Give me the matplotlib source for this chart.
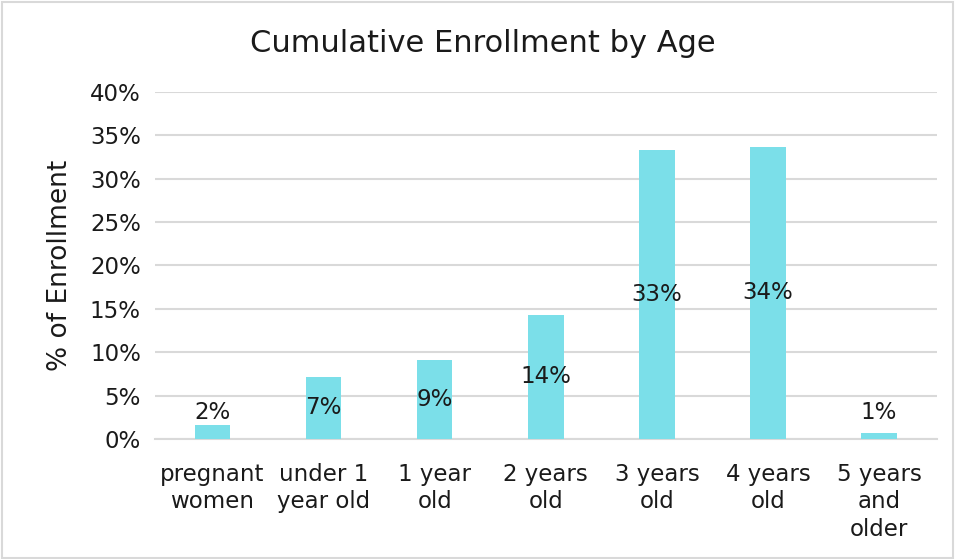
import matplotlib.pyplot as plt
from matplotlib.patches import Rectangle

categories = ['pregnant\nwomen', 'under 1\nyear old', '1 year\nold', '2 years\nold',
              '3 years\nold', '4 years\nold', '5 years\nand\nolder']
enrollment = [0.016, 0.072, 0.091, 0.143, 0.333, 0.337, 0.007]
labels = ['2%', '7%', '9%', '14%', '33%', '34%', '1%']

plt.rcParams['font.family'] = ['DejaVu Sans']

fig = plt.figure(figsize=(9.55, 5.59), dpi=100)
ax = fig.add_axes([0.162, 0.2147, 0.819, 0.6207])

x = range(len(categories))
ax.bar(x, enrollment, width=0.32, color='#7bdfe9', zorder=3)

# data labels centred in the bar, pushed up for the short ones
for i, v in enumerate(enrollment):
    ax.text(i, max(v / 2, 0.030), labels[i], ha='center', va='center',
            fontsize=16.5, color='#1a1a1a', zorder=4)

ax.set_ylim(0, 0.40)
ax.set_xlim(-0.52, 6.52)
ax.set_yticks([i * 0.05 for i in range(9)])
ax.set_yticklabels([f'{i * 5}%' for i in range(9)], fontsize=16.5, color='#1a1a1a')
ax.set_xticks(list(x))
ax.set_xticklabels(categories, fontsize=16.5, color='#1a1a1a', linespacing=1.25)
ax.tick_params(axis='y', length=0, pad=10)
ax.tick_params(axis='x', length=0, pad=17)
ax.grid(axis='y', color='#d9d9d9', linewidth=1.5, zorder=0)
for s in ['top', 'right', 'left']:
    ax.spines[s].set_visible(False)
ax.spines['bottom'].set_color('#d9d9d9')
ax.spines['bottom'].set_linewidth(1.5)

ax.set_ylabel('% of Enrollment', fontsize=19, color='#1a1a1a', labelpad=12)
fig.text(0.506, 0.922, 'Cumulative Enrollment by Age', ha='center', va='center',
         fontsize=22, color='#1a1a1a')

# outer chart border
fig.patches.append(Rectangle((0.002, 0.002), 0.996, 0.994, transform=fig.transFigure,
                             fill=False, edgecolor='#d9d9d9', linewidth=1.5))

fig.savefig('out.png', dpi=100)
